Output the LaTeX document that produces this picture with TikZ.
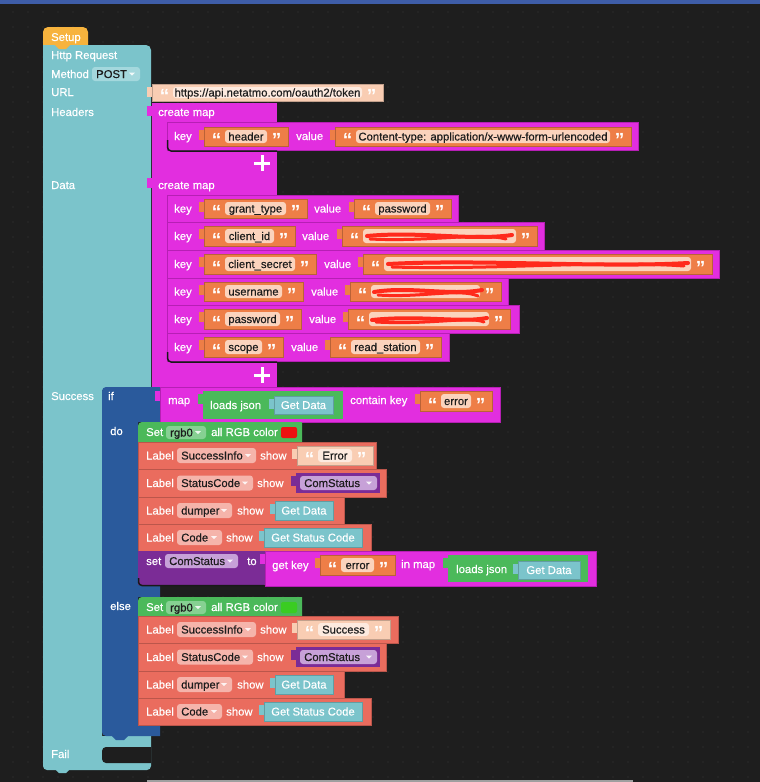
\documentclass[tikz,border=0pt]{standalone}
\usepackage{fontspec}
\setmainfont{Liberation Sans}
\newfontfamily\blkfont{Liberation Sans}[FakeBold=0.35]
\definecolor{bgc}{HTML}{1E1E1E}
\definecolor{dotc}{HTML}{3A3A3A}
\definecolor{topbar}{HTML}{3E5DA8}
\definecolor{hat}{HTML}{F7B33D}
\definecolor{tealb}{HTML}{7BC4CB}
\definecolor{tealf}{HTML}{A4D8DD}
\definecolor{mag}{HTML}{E22EDF}
\definecolor{magd}{HTML}{B61FB4}
\definecolor{org}{HTML}{EE7E47}
\definecolor{fld}{HTML}{FBD3BD}
\definecolor{peach}{HTML}{F9CDB3}
\definecolor{peachf}{HTML}{FDEADF}
\definecolor{grn}{HTML}{4BB95A}
\definecolor{grnf}{HTML}{86D192}
\definecolor{sal}{HTML}{EA6C5E}
\definecolor{salf}{HTML}{F5B4AB}
\definecolor{pur}{HTML}{7B2C96}
\definecolor{purf}{HTML}{C7A1D8}
\definecolor{ifb}{HTML}{2A5A9C}
\definecolor{scrib}{HTML}{FF2A1C}
\definecolor{dtext}{HTML}{1C1C1C}
\definecolor{swred}{HTML}{EE1111}
\definecolor{swgrn}{HTML}{3ACC22}

% value tab on the left of a block
\newcommand{\vtab}[3]{\fill[#1] ({#2-5},{#3+3}) rectangle ({#2+0.5},{#3+13});}
% string block: x1,y1,x2,y2,text,colour,fieldcolour
\newcommand{\sblk}[7]{%
  \vtab{#6}{#1}{#2}
  \filldraw[fill=#6, draw=#6!78!black, line width=0.5pt] ({#1},{#2}) rectangle ({#3},{#4});
  \fill[#7, rounded corners=3pt] ({#1+21},{#2+3}) rectangle ({#3-21},{#4-3});
  \node[qt] at ({#1+12.5},{(#2+#4)/2+10}) {“};
  \node[qt] at ({#3-11.5},{(#2+#4)/2+10}) {”};
  \node[ftxt, anchor=base] at ({(#1+#3)/2},{(#2+#4)/2+4}) {#5};}
% dropdown field: x1,y1,x2,y2,colour,text
\newcommand{\ddf}[6]{%
  \fill[#5, rounded corners=3pt] ({#1},{#2}) rectangle ({#3},{#4});
  \node[ftxt, anchor=base west] at ({#1+4},{(#2+#4)/2+4}) {#6};
  \fill[white, opacity=.85] ({#3-11},{(#2+#4)/2-1.5}) -- ({#3-5},{(#2+#4)/2-1.5}) -- ({#3-8},{(#2+#4)/2+1.5}) -- cycle;}
% value block with white centred text: x1,y1,x2,y2,colour,text
\newcommand{\vblk}[6]{%
  \vtab{#5}{#1}{#2}
  \filldraw[fill=#5, draw=#5!80!black, line width=.5pt] ({#1},{#2}) rectangle ({#3},{#4});
  \node[txt, anchor=base] at ({(#1+#3)/2},{(#2+#4)/2+4}) {#6};}
% key/value row: ytop,ybot,xend,keytext,keyx2,valuex,valx1,valx2,valtext
\newcommand{\kvrow}[9]{%
  \filldraw[fill=mag, draw=magd, line width=.5pt] (167,{#1}) rectangle ({#3},{#2});
  \node[txt] at (174,{(#1+#2)/2+4}) {key};
  \sblk{204}{#1+4}{#5}{#2-4}{#4}{org}{fld}
  \node[txt] at ({#6},{(#1+#2)/2+4}) {value};
  \sblk{#7}{#1+4}{#8}{#2-4}{#9}{org}{fld}}
% label row: ytop,ybot,xend,dropx2,droptext,showx
\newcommand{\lblrow}[6]{%
  \filldraw[fill=sal, draw=sal!80!black, line width=.5pt] (138,{#1}) rectangle ({#3},{#2});
  \node[txt] at (146,{(#1+#2)/2+4}) {Label};
  \ddf{177}{(#1+#2)/2-7.5}{#4}{(#1+#2)/2+7.5}{salf}{#5}
  \node[txt] at ({#6},{(#1+#2)/2+4}) {show};}
% green set block: ytop, swatch colour
\newcommand{\setrgb}[2]{%
  \fill[grn] (138,{#1+20}) -- (138,{#1+4}) to[out=90,in=180] (142,{#1}) -- (302,{#1}) -- (302,{#1+20}) -- cycle;
  \node[txt] at (146,{#1+14}) {Set};
  \ddf{166}{#1+4}{206}{#1+17}{grnf}{rgb0}
  \node[txt] at (211,{#1+14}) {all RGB color};
  \fill[#2, rounded corners=2pt] (281,{#1+5}) rectangle (297,{#1+16});}
% purple variable block: ytop
\newcommand{\comst}[1]{%
  \vtab{pur}{296}{#1}
  \fill[pur] (296,{#1}) rectangle (380,{#1+20});
  \ddf{300}{#1+3}{377}{#1+17}{purf}{ComStatus}}

\begin{document}
\begin{tikzpicture}[x=1pt,y=-1pt,
  txt/.style={font=\blkfont\fontsize{11.3}{13}\selectfont, text=white, inner sep=0pt, anchor=base west},
  ftxt/.style={font=\blkfont\fontsize{11.3}{13}\selectfont, text=dtext, inner sep=0pt},
  qt/.style={font=\fontsize{19}{19}\selectfont\bfseries, text=white, inner sep=0pt, anchor=base},
  scr/.style={scrib, line cap=round, line width=4pt}]
\useasboundingbox (0,0) rectangle (760,782);
\fill[bgc] (0,0) rectangle (760,782);
\foreach \i in {0,...,49} \foreach \j in {0,...,51} \fill[dotc] ({13+15*\i},{12+15*\j}) circle (0.6);
\fill[topbar] (0,0) rectangle (760,4);
\fill[gray!75] (147,780) rectangle (633,782);

% ---- Setup hat and main teal block
\fill[hat, rounded corners=5pt] (43,52) rectangle (88,27);
\fill[tealb] (43,45) -- (146,45) to[out=0,in=90] (151,50) -- (151,390) -- (102,390) -- (102,736)
  -- (151,736) -- (151,766) to[out=-90,in=0] (147,770) -- (47,770) to[out=180,in=-90] (43,766) -- cycle;
\fill[bgc] (151,747) -- (106,747) to[out=180,in=90] (102,751) -- (102,759) to[out=-90,in=180] (106,763) -- (151,763) -- cycle;
\fill[hat] (55,45) -- (70,45) -- (66,49) -- (59,49) -- cycle;
\fill[tealb] (55,769) -- (70,769) -- (66,773) -- (59,773) -- cycle;
\node[txt] (setup) at (51,41) {Setup};
\node[txt] (http) at (51,59) {Http Request};
\node[txt] (method) at (51,78) {Method};
\ddf{92}{67}{140}{81}{tealf}{POST}
\node[txt] (url) at (51,96) {URL};
\node[txt] (headers) at (51,116) {Headers};
\node[txt] (data) at (51,189) {Data};
\node[txt] (success) at (51,400) {Success};
\node[txt] (fail) at (51,758) {Fail};

% ---- URL
\sblk{152}{84}{383}{101}{https://api.netatmo.com/oauth2/token}{peach}{peachf}

% ---- Headers map
\vtab{mag}{152}{103}
\fill[mag] (152,103) rectangle (277,175);
\node[txt] (cm1) at (158,116) {create map};
\filldraw[fill=mag, draw=magd, line width=.5pt] (167,122) rectangle (638,150);
\draw[black!90, line width=1.5pt] (167.5,140) -- (167.5,147) to[out=-90,in=180] (171,151) -- (277,151);
\node[txt] at (174,140) {key};
\sblk{204}{127}{288}{146}{header}{org}{fld}
\node[txt] at (296,140) {value};
\sblk{335}{127}{631}{146}{Content-type: application/x-www-form-urlencoded}{org}{fld}
\draw[white, line width=3pt] (254,163) -- (270,163) (262,155) -- (262,171);

% ---- Data map
\vtab{mag}{152}{175}
\fill[mag] (152,175) rectangle (277,387);
\node[txt] (cm2) at (158,189) {create map};
\kvrow{195}{222}{458}{grant\_type}{307}{314}{354}{451}{password}
\kvrow{222}{250}{544}{client\_id}{295}{302}{342}{537}{}
\kvrow{250}{278}{719}{client\_secret}{316}{324}{363}{712}{}
\kvrow{278}{305}{508}{username}{303}{311}{350}{501}{}
\kvrow{305}{333}{519}{password}{301}{309}{348}{510}{}
\kvrow{333}{361}{449}{scope}{283}{291}{330}{441}{read\_station}
\draw[black!90, line width=1.5pt] (167.5,352) -- (167.5,358) to[out=-90,in=180] (171,362) -- (277,362);
\draw[white, line width=3pt] (254,375) -- (270,375) (262,367) -- (262,383);
% redaction scribbles
\draw[scr] (367,236) .. controls (420,231) and (470,241) .. (512,235);
\draw[scr, line width=3pt] (370,239) .. controls (430,242) and (480,232) .. (506,239);
\draw[scr] (388,264) .. controls (480,259) and (600,268) .. (688,263);
\draw[scr, line width=3pt] (392,267) .. controls (500,270) and (600,260) .. (684,266);
\draw[scr] (374,292) .. controls (410,286) and (450,296) .. (482,290);
\draw[scr, line width=3pt] (378,295) .. controls (420,298) and (460,288) .. (478,296);
\draw[scr] (372,320) .. controls (420,315) and (460,323) .. (487,318);
\draw[scr, line width=3pt] (376,322) .. controls (430,325) and (470,316) .. (484,322);

% ---- if / else block
\fill[ifb] (106,387) -- (160,387) -- (160,422) -- (138,422) -- (138,585) -- (160,585) -- (160,597)
  -- (138,597) -- (138,725) -- (160,725) -- (160,736) -- (106,736) to[out=180,in=-90] (102,732)
  -- (102,391) to[out=90,in=180] (106,387) -- cycle;
\fill[ifb] (112,736) -- (128,736) -- (124,740) -- (116,740) -- cycle;
\node[txt] (if) at (108,400) {if};
\node[txt] (do) at (110,435) {do};
\node[txt] (else) at (110,610) {else};

% condition
\vtab{mag}{160}{388}
\filldraw[fill=mag, draw=magd, line width=.5pt] (160,387) rectangle (500,422);
\node[txt] at (168,404) {map};
\vtab{grn}{203}{391}
\fill[grn] (203,391) rectangle (343,419);
\node[txt] at (210,409) {loads json};
\vblk{274}{396}{333}{414}{tealb}{Get Data}
\node[txt] at (350,404) {contain key};
\sblk{420}{391}{492}{411}{error}{org}{fld}

% do branch
\setrgb{422}{swred}
\lblrow{442}{469}{376}{256}{SuccessInfo}{260}
\sblk{297}{446}{373}{465}{Error}{peach}{peachf}
\lblrow{469}{497}{386}{253}{StatusCode}{257}
\comst{473}
\lblrow{497}{524}{344}{232}{dumper}{237}
\vblk{275}{501}{333}{520}{tealb}{Get Data}
\lblrow{524}{551}{371}{222}{Code}{226}
\vblk{264}{528}{362}{547}{tealb}{Get Status Code}
% set ComStatus to
\fill[pur] (138,551) rectangle (265,585);
\draw[black!90, line width=1.5pt] (138.5,578) -- (138.5,582) to[out=-90,in=180] (142,585.5) -- (264,585.5);
\node[txt] at (146,565) {set};
\ddf{165}{554}{238}{568}{purf}{ComStatus}
\node[txt] at (247,565) {to};
\vtab{mag}{265}{551}
\filldraw[fill=mag, draw=magd, line width=.5pt] (265,551) rectangle (596,586);
\node[txt] at (272,569) {get key};
\sblk{320}{555}{395}{575}{error}{org}{fld}
\node[txt] at (401,568) {in map};
\vtab{grn}{448}{555}
\fill[grn] (448,555) rectangle (588,582);
\node[txt] at (456,573) {loads json};
\vblk{518}{561}{580}{579}{tealb}{Get Data}

% else branch
\setrgb{597}{swgrn}
\lblrow{616}{643}{398}{256}{SuccessInfo}{260}
\sblk{297}{620}{390}{639}{Success}{peach}{peachf}
\lblrow{643}{671}{386}{253}{StatusCode}{257}
\comst{647}
\lblrow{671}{698}{344}{232}{dumper}{237}
\vblk{275}{675}{333}{694}{tealb}{Get Data}
\lblrow{698}{725}{371}{222}{Code}{226}
\vblk{264}{702}{362}{721}{tealb}{Get Status Code}
\end{tikzpicture}
\end{document}
